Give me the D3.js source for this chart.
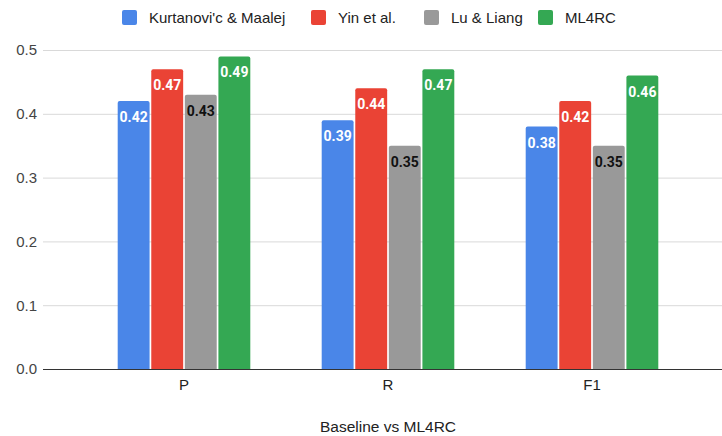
<!DOCTYPE html>
<html>
<head>
<meta charset="utf-8">
<script src="https://cdn.jsdelivr.net/npm/d3@7"></script>
<style>
  html, body { margin: 0; padding: 0; background: #fff; }
  svg { display: block; font-family: "Liberation Sans", Arial, sans-serif; }
</style>
</head>
<body>
<svg id="chart" width="722" height="436"></svg>
<script>
// Metrics compared per model
const categories = ["P", "R", "F1"];
const seriesNames = ["Kurtanovi'c & Maalej", "Yin et al.", "Lu & Liang", "ML4RC"];
const kurtanovicMaalej = [0.42, 0.39, 0.38];
const yinEtAl = [0.47, 0.44, 0.42];
const luLiang = [0.43, 0.35, 0.35];
const ml4rc = [0.49, 0.47, 0.46];
const yTicks = [0, 0.1, 0.2, 0.3, 0.4, 0.5];
const xTitle = "Baseline vs ML4RC";

const seriesValues = [kurtanovicMaalej, yinEtAl, luLiang, ml4rc];
const colors = ["#4a86e8", "#ea4335", "#999999", "#34a853"];
const labelColors = ["#fff", "#fff", "#111", "#fff"];

const svg = d3.select("#chart");
const plot = { left: 43, right: 722, top: 50, bottom: 369 };

const y = d3.scaleLinear().domain([0, 0.5]).range([plot.bottom, plot.top]);
const x0 = d3.scaleBand().domain(categories).range([82, 694]).paddingInner(0).paddingOuter(0);
const x1 = d3.scaleBand().domain(d3.range(seriesNames.length))
  .range([x0.bandwidth() * 0.175, x0.bandwidth() * 0.825]).paddingInner(0.05);

// Gridlines
svg.append("g")
  .selectAll("line")
  .data(yTicks.filter(t => t > 0))
  .join("line")
  .attr("x1", plot.left).attr("x2", plot.right)
  .attr("y1", d => y(d) + 0.5).attr("y2", d => y(d) + 0.5)
  .attr("stroke", "#d9d9d9").attr("stroke-width", 1);

// Y axis labels
svg.append("g")
  .selectAll("text")
  .data(yTicks)
  .join("text")
  .attr("x", 37).attr("y", d => y(d))
  .attr("dy", "0.36em")
  .attr("text-anchor", "end")
  .attr("font-size", 15).attr("fill", "#444")
  .text(d => d3.format(".1f")(d));

// Bars
const groups = svg.append("g")
  .selectAll("g")
  .data(categories)
  .join("g")
  .attr("transform", d => `translate(${x0(d)},0)`);

const barData = (c, ci) => seriesValues.map((vals, si) => ({ si, v: vals[ci] }));

groups.each(function (c, ci) {
  const g = d3.select(this);
  const bars = barData(c, ci);
  g.selectAll("path")
    .data(bars)
    .join("path")
    .attr("fill", d => colors[d.si])
    .attr("d", d => {
      const bx = x1(d.si), bw = x1.bandwidth(), top = y(d.v), bot = y(0), r = 2;
      return `M${bx},${bot}V${top + r}Q${bx},${top} ${bx + r},${top}H${bx + bw - r}Q${bx + bw},${top} ${bx + bw},${top + r}V${bot}Z`;
    });
  g.selectAll("text")
    .data(bars)
    .join("text")
    .attr("x", d => x1(d.si) + x1.bandwidth() / 2)
    .attr("y", d => y(d.v) + 21)
    .attr("text-anchor", "middle")
    .attr("font-family", "Roboto, sans-serif")
    .attr("font-weight", "bold")
    .attr("font-size", 14)
    .attr("fill", d => labelColors[d.si])
    .text(d => d3.format(".2f")(d.v));
});

// Baseline
svg.append("line")
  .attr("x1", plot.left).attr("x2", plot.right)
  .attr("y1", y(0) + 0.5).attr("y2", y(0) + 0.5)
  .attr("stroke", "#333").attr("stroke-width", 1);

// Category labels
svg.append("g")
  .selectAll("text")
  .data(categories)
  .join("text")
  .attr("x", d => x0(d) + x0.bandwidth() / 2)
  .attr("y", 390)
  .attr("text-anchor", "middle")
  .attr("font-size", 15).attr("fill", "#222")
  .text(d => d);

// Axis title
svg.append("text")
  .attr("x", 388).attr("y", 432)
  .attr("text-anchor", "middle")
  .attr("font-size", 15.5).attr("fill", "#222")
  .text(xTitle);

// Legend
const legendX = [122, 311, 424, 538];
const legend = svg.append("g")
  .selectAll("g")
  .data(seriesNames)
  .join("g")
  .attr("transform", (d, i) => `translate(${legendX[i]},10)`);
legend.append("rect")
  .attr("width", 15).attr("height", 15).attr("rx", 2)
  .attr("fill", (d, i) => colors[i]);
legend.append("text")
  .attr("x", 27).attr("y", 7.5).attr("dy", "0.36em")
  .attr("font-size", 15).attr("fill", "#222")
  .text(d => d);
</script>
</body>
</html>
